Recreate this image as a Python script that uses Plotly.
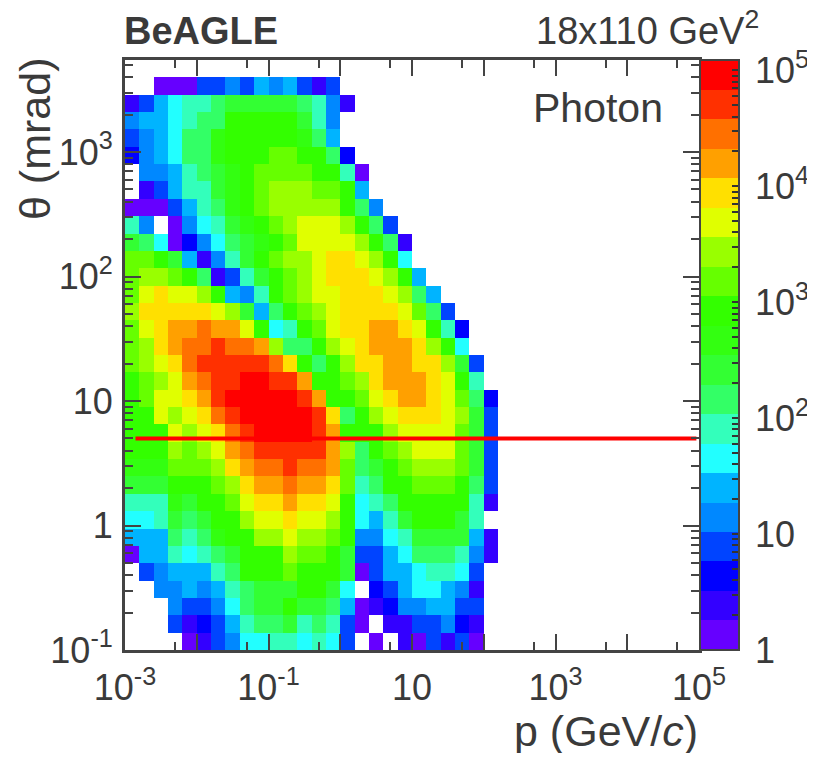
import plotly.graph_objects as go

_ = None
# Colour-band index (1..20) read for every cell, one list per theta bin, p bins left to right
row_00 = [_,_,_,_,1,2,4,5,7,7,8,8,7,8,7,4,_,1,_,2,1,4,2,4,1]
row_01 = [_,_,_,4,2,3,4,6,8,9,9,10,8,9,8,4,1,_,2,2,4,4,5,3,2]
row_02 = [_,_,_,5,4,4,5,7,9,10,10,12,10,10,9,6,1,2,3,5,5,6,6,4,4]
row_03 = [_,_,5,5,6,5,6,8,9,10,10,10,12,12,10,7,_,3,4,6,7,7,6,5,2]
row_04 = [_,4,5,6,6,6,8,9,12,12,12,13,12,12,12,10,1,4,6,6,7,8,8,7,4]
row_05 = [1,6,6,8,7,8,9,10,12,12,12,14,13,13,12,10,4,4,6,7,9,9,9,8,5,2]
row_06 = [6,6,6,9,8,9,11,12,12,14,14,15,14,14,13,12,5,5,7,8,10,10,10,10,6,2]
row_07 = [7,7,8,10,9,10,12,12,14,15,15,16,15,15,14,12,7,6,8,10,12,12,12,10,8]
row_08 = [8,8,8,11,10,12,12,13,15,16,16,17,16,16,15,12,7,8,9,12,12,12,12,12,8,2]
row_09 = [10,10,10,12,12,12,13,14,16,17,17,18,17,17,16,13,8,9,12,12,13,13,13,12,9,4]
row_10 = [11,11,11,13,13,13,14,16,17,18,18,19,18,18,17,13,9,10,12,13,14,14,14,13,10,4]
row_11 = [12,12,12,14,13,14,15,17,18,19,19,19,19,19,17,14,9,12,13,14,15,15,15,13,10,4]
row_12 = [12,12,12,15,14,15,16,18,19,20,20,20,20,19,17,12,12,12,14,15,15,15,15,13,10,4]
row_13 = [12,12,15,14,15,16,18,19,20,20,20,20,20,19,16,9,12,14,15,16,16,16,15,14,10,4]
row_14 = [12,13,15,15,16,17,19,20,20,20,20,20,19,17,12,12,13,15,16,17,17,16,15,13,9,3]
row_15 = [12,13,14,15,17,18,19,19,20,20,19,19,17,12,12,13,14,16,17,17,17,16,15,12,8]
row_16 = [13,14,15,16,18,19,19,19,19,19,18,16,12,9,12,14,16,16,17,17,16,16,14,10,4]
row_17 = [13,14,16,17,18,18,19,18,18,17,14,9,9,12,14,15,16,17,17,17,16,14,12,7]
row_18 = [13,15,16,17,17,18,17,17,15,12,7,8,12,13,15,16,16,17,17,16,15,12,8,3]
row_19 = [14,16,16,16,16,16,15,14,10,6,9,12,13,14,15,16,16,16,16,15,13,9,4]
row_20 = [13,15,16,15,15,14,12,6,5,8,12,13,14,15,15,16,16,16,15,14,9,6]
row_21 = [13,14,14,13,12,9,2,4,8,10,12,13,14,15,16,16,16,15,14,12,6]
row_22 = [13,13,12,10,6,2,5,8,10,12,13,14,14,15,16,16,15,14,12,7]
row_23 = [10,9,7,1,3,5,7,9,10,11,12,13,15,15,15,15,14,12,9,2]
row_24 = [8,5,_,1,5,7,8,10,11,12,13,14,15,15,15,14,12,9,4]
row_25 = [1,1,1,4,6,8,9,11,12,13,14,14,14,14,14,12,9,5]
row_26 = [_,2,4,6,8,8,10,11,12,13,14,14,14,13,13,12,6]
row_27 = [_,5,5,6,8,9,10,11,12,13,13,13,13,12,12,8,1]
row_28 = [3,5,6,7,9,9,11,12,12,12,13,13,12,12,9,3]
row_29 = [4,5,6,7,9,9,11,12,12,12,12,12,11,9,6]
row_30 = [5,6,6,7,8,9,9,12,12,12,12,12,10,8,5]
row_31 = [2,4,6,7,8,8,9,10,10,10,10,10,9,8,5,2]
row_32 = [_,_,1,1,1,4,4,5,4,6,5,6,4,2,4]
row_33 = []
rows = [row_00,row_01,row_02,row_03,row_04,row_05,row_06,row_07,row_08,row_09,row_10,row_11,
        row_12,row_13,row_14,row_15,row_16,row_17,row_18,row_19,row_20,row_21,row_22,row_23,
        row_24,row_25,row_26,row_27,row_28,row_29,row_30,row_31,row_32,row_33]

band_colors = ["#6600ff","#3300ff","#0000ff","#0044ff","#0088ff","#00b4ff","#22ffff","#33ffbb",
               "#33ff66","#33ff33","#33ff11","#33ff00","#66ff00","#99ff00","#e0ff00","#ffe000",
               "#ffa000","#ff7000","#ff3000","#ff0000"]

N_P_BINS = 26
P_BIN_LOG = 0.2
P_LOG_MIN = -3
N_T_BINS = 34
T_LOG_MIN = -1
T_LOG_MAX = 3.739
Z_LOG_MAX = 5.09
N_BANDS = len(band_colors)

line_theta = [5, 5]
line_p = [1.4e-3, 9.2e4]

x_major = [1e-3,1e-2,1e-1,1,1e1,1e2,1e3,1e4,1e5]
x_text = ["10<sup>-3</sup>","","10<sup>-1</sup>","","10","","10<sup>3</sup>","","10<sup>5</sup>"]
x_minor = [5e-3,5e-2,5e-1,5,5e1,5e2,5e3,5e4]
y_major = [1e-1,1,1e1,1e2,1e3]
y_text = ["10<sup>-1</sup>","1","10","10<sup>2</sup>","10<sup>3</sup>"]
y_minor = [m*10.0**e for e in (-1,0,1,2,3) for m in (2,3,4,5,6,7,8,9) if m*10.0**e < 5400]
cbar_major = [0,1,2,3,4,5]
cbar_text = ["1","10","10<sup>2</sup>","10<sup>3</sup>","10<sup>4</sup>","10<sup>5</sup>"]
cbar_minor = [0.301,0.477,0.602,0.699,0.778,0.845,0.903,0.954]

x_edges = [10 ** (P_LOG_MIN + P_BIN_LOG * i) for i in range(N_P_BINS + 1)]
t_step = (T_LOG_MAX - T_LOG_MIN) / N_T_BINS
y_edges = [10 ** (T_LOG_MIN + t_step * i) for i in range(N_T_BINS + 1)]

def to_log_z(level):
    return None if level is None else (level - 0.5) * Z_LOG_MAX / N_BANDS

z = [[to_log_z(v) for v in r] + [None] * (N_P_BINS - len(r)) for r in rows]

colorscale = []
for i, c in enumerate(band_colors):
    colorscale.append([i / N_BANDS, c])
    colorscale.append([(i + 1) / N_BANDS, c])

TXT = "#3a3a3a"
FONT = "Liberation Sans"
OFF = 8  # the page adds this body margin around the figure
W, H = 805, 745
L, R, T, B = 125 - OFF, 699 - OFF, 60 - OFF, 650 - OFF
PW, PH = R - L, B - T

cb_ticks = cbar_major + [d + m for d in range(5) for m in cbar_minor]
cb_text = ["\u2009" + t for t in cbar_text] + [""] * (len(cb_ticks) - len(cbar_major))

fig = go.Figure()
fig.add_trace(go.Heatmap(
    x=x_edges, y=y_edges, z=z, zmin=0, zmax=Z_LOG_MAX, colorscale=colorscale, hoverongaps=False,
    colorbar=dict(
        x=1 + 1.0 / PW, xanchor="left", y=0, yanchor="bottom", len=1, lenmode="fraction",
        thickness=39, thicknessmode="pixels", xpad=0, ypad=0, outlinewidth=2, outlinecolor="#444",
        tickmode="array", tickvals=cb_ticks, ticktext=cb_text, ticks="inside", ticklen=8,
        tickwidth=2, tickcolor="#333", tickfont=dict(family=FONT, size=36, color=TXT))))
fig.add_trace(go.Scatter(x=line_p, y=line_theta, mode="lines",
                         line=dict(color="#ff0000", width=4), showlegend=False, hoverinfo="skip"))

axis_common = dict(type="log", showgrid=False, zeroline=False, showline=True, linewidth=3,
                   linecolor="#444", mirror="ticks", ticks="inside", ticklen=16, tickwidth=2,
                   tickcolor="#444", tickmode="array", automargin=False,
                   tickfont=dict(family=FONT, size=36, color=TXT))
fig.update_xaxes(**axis_common, range=[-3, 5], tickvals=x_major, ticktext=x_text, ticklabelstandoff=4,
                 minor=dict(tickmode="array", tickvals=x_minor, ticks="inside", ticklen=8,
                            tickwidth=2, tickcolor="#444", showgrid=False))
fig.update_yaxes(**axis_common, range=[T_LOG_MIN, T_LOG_MAX], tickvals=y_major, ticktext=y_text, ticklabelstandoff=2,
                 minor=dict(tickmode="array", tickvals=y_minor, ticks="inside", ticklen=8,
                            tickwidth=2, tickcolor="#444", showgrid=False))

def note(text, px, py, anchor, size=34, **kw):
    fig.add_annotation(text=text, xref="paper", yref="paper",
                       x=(px - OFF - L) / PW, y=(B - (py - OFF)) / PH,
                       xanchor=anchor, yanchor="middle", showarrow=False, borderpad=0,
                       font=dict(family=FONT, size=size, color=TXT), **kw)

note("<b>BeAGLE</b>", 123, 31, "left", size=38)
note("18x110 GeV<sup>2</sup>", 760, 28, "right", size=38)
note("Photon", 664, 108, "right", size=41)
note("p (GeV/<i>c</i>)", 699, 731, "right", size=43)
note("θ (mrad)", 35, 139, "center", size=43, textangle=-90)

fig.update_layout(width=W, height=H, autosize=False, showlegend=False,
                  paper_bgcolor="white", plot_bgcolor="white",
                  margin=dict(l=L, r=W - R, t=T, b=H - B, pad=0, autoexpand=False))
fig.write_html("out.html")
